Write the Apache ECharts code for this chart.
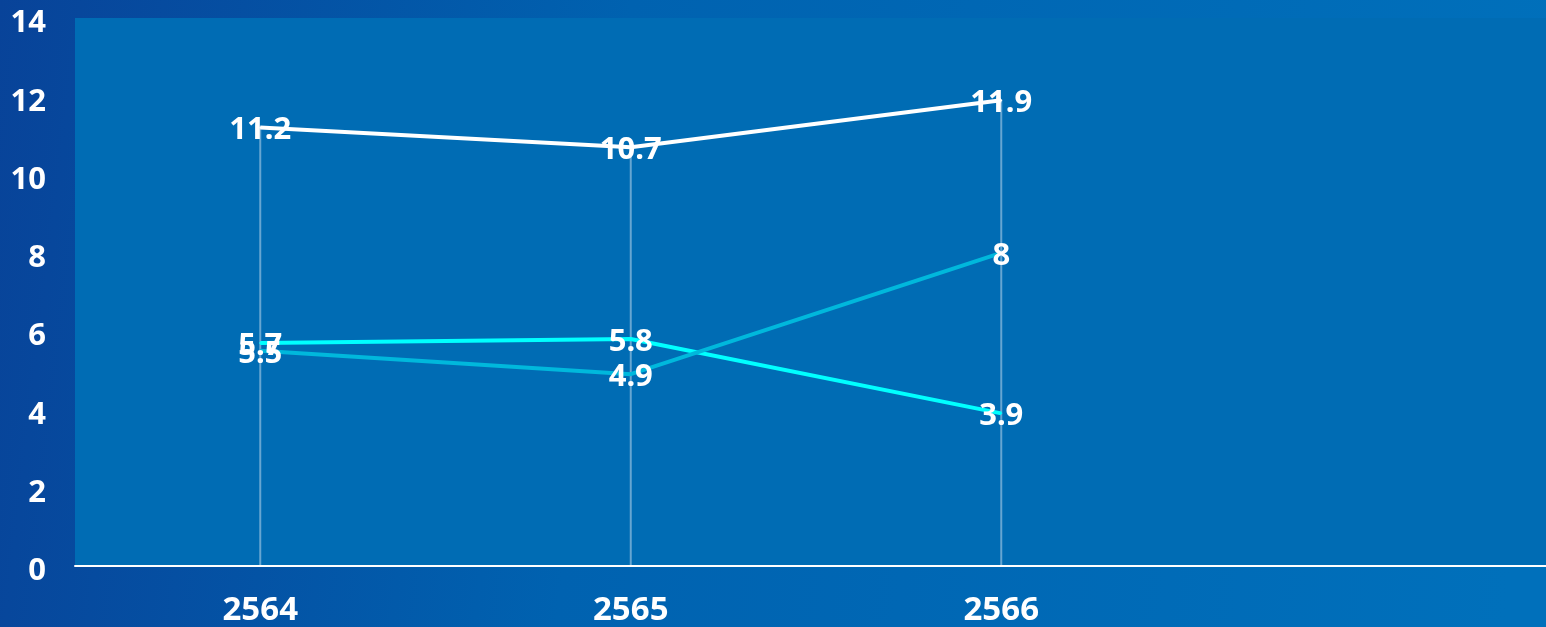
<!DOCTYPE html>
<html>
<head>
<meta charset="utf-8">
<script src="https://cdn.jsdelivr.net/npm/echarts@6/dist/echarts.min.js"></script>
<style>
  html, body { margin: 0; padding: 0; overflow: hidden; }
  #main { width: 1557px; height: 627px; }
</style>
</head>
<body>
<div id="main"></div>
<script>
// หมวดปี (พ.ศ.) - ช่องสุดท้ายว่าง
var years = ['2564', '2565', '2566', '']
var seriesWhite = [11.2, 10.7, 11.9]
var seriesCyan = [5.7, 5.8, 3.9]
var seriesBlue = [5.5, 4.9, 8]
var yTicks = { min: 0, max: 14, interval: 2 }

// เส้นแนวตั้งจากจุดสูงสุดลงแกน
var dropLines = seriesWhite.map(function(v, i) {
  return Math.max(v, seriesCyan[i], seriesBlue[i])
})

var labelStyle = {
  show: true,
  position: 'inside',
  color: '#fff',
  fontSize: 31,
  fontWeight: 'bold',
  fontFamily: 'Noto Sans',
  offset: [0, 3]
}

function lineSeries(name, data, color) {
  return {
    name: name,
    type: 'line',
    data: data,
    symbol: 'circle',
    symbolSize: 2,
    itemStyle: { color: color },
    lineStyle: { color: color, width: 4 },
    label: labelStyle,
    z: 3
  }
}

var myChart = echarts.init(document.getElementById('main'))
var option = {
  animation: false,
  backgroundColor: {
    type: 'linear', x: 0, y: 0, x2: 1, y2: 0.3,
    colorStops: [
      { offset: 0, color: '#084399' },
      { offset: 0.4, color: '#0062b0' },
      { offset: 1, color: '#0070bb' }
    ]
  },
  grid: {
    show: true,
    left: 75,
    top: 18,
    right: 0,
    bottom: 61,
    outerBoundsMode: 'none',
    backgroundColor: '#006cb4',
    borderWidth: 0
  },
  xAxis: {
    type: 'category',
    data: years,
    axisLine: { lineStyle: { color: '#fff', width: 2 } },
    axisTick: { show: false },
    axisLabel: {
      color: '#fff',
      fontSize: 33,
      fontWeight: 'bold',
      fontFamily: 'Noto Sans',
      margin: 28
    },
    splitLine: { show: false }
  },
  yAxis: {
    type: 'value',
    min: yTicks.min,
    max: yTicks.max,
    interval: yTicks.interval,
    axisLine: { show: false },
    axisTick: { show: false },
    splitLine: { show: false },
    axisLabel: {
      margin: 29,
      formatter: '{v|{value}}',
      rich: {
        v: {
          color: '#fff',
          fontSize: 31,
          fontWeight: 'bold',
          fontFamily: 'Noto Sans',
          padding: [11, 0, 0, 0]
        }
      }
    }
  },
  series: [
    {
      type: 'bar',
      data: dropLines,
      barWidth: 2,
      itemStyle: { color: 'rgba(255,255,255,0.4)' },
      silent: true,
      z: 1
    },
    lineSeries('white', seriesWhite, '#ffffff'),
    lineSeries('cyan', seriesCyan, '#00ffff'),
    lineSeries('blue', seriesBlue, '#00b8dc')
  ]
}
myChart.setOption(option)
</script>
</body>
</html>
